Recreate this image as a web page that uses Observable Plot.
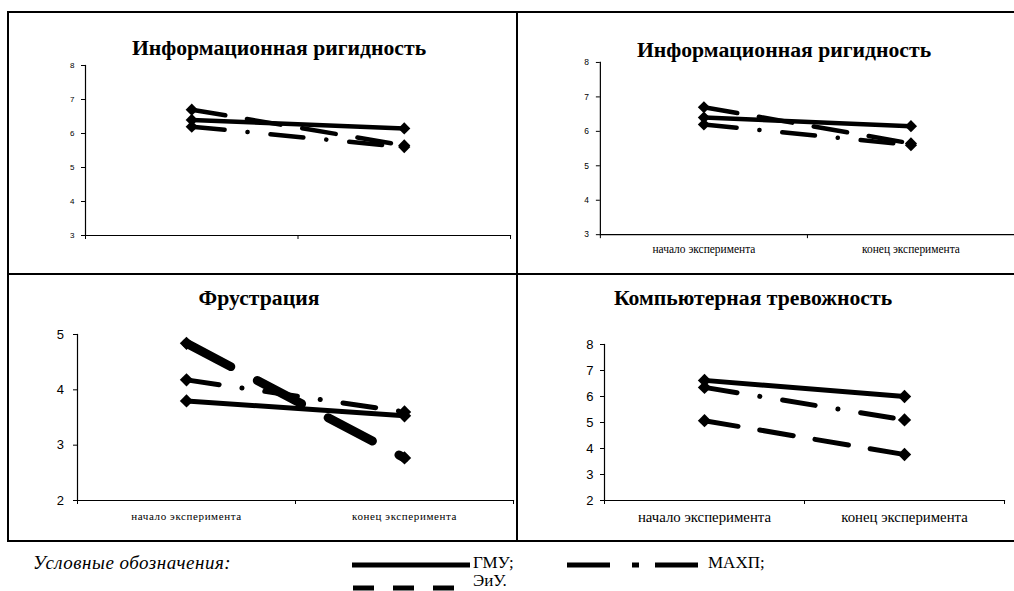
<!DOCTYPE html>
<html>
<head>
<meta charset="utf-8">
<script src="https://cdn.jsdelivr.net/npm/d3@7"></script>
<script src="https://cdn.jsdelivr.net/npm/@observablehq/plot@0.6"></script>
<style>
  html, body { margin: 0; padding: 0; background: #fff; overflow: hidden; }
  #page { position: relative; width: 1014px; height: 591px; overflow: hidden; background: #fff; }
  .hl, .vl { position: absolute; background: #000; }
  .title { position: absolute; transform: translate(-50%, -50%); font-family: "Liberation Serif", "Times New Roman", Times, serif; font-weight: bold; white-space: nowrap; color: #000; }
  .panel { position: absolute; }
  .legtext { position: absolute; font-family: "Liberation Serif", "Times New Roman", Times, serif; font-size: 16px; white-space: nowrap; color: #000; transform: translateY(-50%); }
</style>
</head>
<body>
<div id="page"></div>
<script>
// ---------- data ----------
const categories = ["начало эксперимента", "конец эксперимента"];
const seriesNames = ["ГМУ", "МАХП", "ЭиУ"];

const rigidityGMU  = [6.4, 6.15];
const rigidityMAHP = [6.2, 5.6];
const rigidityEiU  = [6.7, 5.65];

const frustrationGMU  = [3.8, 3.53];
const frustrationMAHP = [4.18, 3.6];
const frustrationEiU  = [4.84, 2.77];

const anxietyGMU  = [6.62, 6.0];
const anxietyMAHP = [6.35, 5.1];
const anxietyEiU  = [5.07, 3.77];

const rigidityTicks    = [3, 4, 5, 6, 7, 8];
const frustrationTicks = [2, 3, 4, 5];
const anxietyTicks     = [2, 3, 4, 5, 6, 7, 8];

const titleRigidity    = "Информационная ригидность";
const titleFrustration = "Фрустрация";
const titleAnxiety     = "Компьютерная тревожность";
const legendCaption    = "Условные обозначения:";

const SERIF = "'Liberation Serif', 'Times New Roman', Times, serif";
const SANS = "'Liberation Sans', Arial, sans-serif";

// ---------- helpers ----------
const page = document.getElementById("page");
function line(cls, x, y, w, h) {
  const d = document.createElement("div");
  d.className = cls;
  Object.assign(d.style, {left: x + "px", top: y + "px", width: w + "px", height: h + "px"});
  page.appendChild(d);
}
function title(text, cx, cy, size) {
  const d = document.createElement("div");
  d.className = "title";
  d.textContent = text;
  Object.assign(d.style, {left: cx + "px", top: cy + "px", fontSize: size + "px"});
  page.appendChild(d);
}
const rows = vals => categories.map((c, i) => ({x: i + 0.5, y: vals[i], c}));

function chart(o) {
  const marks = [
    Plot.frame({anchor: "left", strokeWidth: 1.2}),
    Plot.frame({anchor: "bottom", strokeWidth: 1.2}),
    Plot.axisY({ticks: o.yTicks, tickSize: 4, tickPadding: o.yPad, fontSize: o.yFont,
      fontFamily: SANS, label: null, tickFormat: d => String(d)}),
    Plot.axisX({ticks: d3.range(categories.length + 1), tickSize: 4, tickFormat: () => "", label: null})
  ];
  if (o.xFont) {
    marks.push(Plot.axisX({ticks: categories.map((c, i) => i + 0.5), tickSize: 0, tickPadding: o.xPad,
      tickFormat: d => categories[Math.floor(d)], fontSize: o.xFont,
      fontFamily: SERIF, label: null}));
  }
  for (const s of o.series) {
    marks.push(Plot.line(rows(s.vals), {x: "x", y: "y", stroke: "#000", strokeWidth: s.w,
      strokeDasharray: s.dash, strokeLinecap: "round", strokeLinejoin: "round"}));
  }
  for (const s of o.series) {
    marks.push(Plot.dot(rows(s.vals), {x: "x", y: "y", symbol: "diamond2", r: o.r, fill: "#000", stroke: "none"}));
  }
  const svg = Plot.plot({
    width: o.R - o.L + o.ml + o.mr,
    height: o.B - o.T + o.mt + o.mb,
    marginLeft: o.ml, marginRight: o.mr, marginTop: o.mt, marginBottom: o.mb,
    x: {type: "linear", domain: [0, categories.length]},
    y: {domain: [o.yTicks[0], o.yTicks[o.yTicks.length - 1]]},
    style: {background: "transparent", color: "#000", overflow: "visible", letterSpacing: (o.xSpacing || 0) + "px"},
    marks
  });
  const wrap = document.createElement("div");
  wrap.className = "panel";
  wrap.style.left = (o.L - o.ml) + "px";
  wrap.style.top = (o.T - o.mt) + "px";
  wrap.appendChild(svg);
  page.appendChild(wrap);
}

const dashMAHP = "33,23,0.1,23";
const dashEiU = "34,22";

// ---------- frame ----------
line("hl", 8, 11, 1006, 2);
line("hl", 8, 273, 1006, 2);
line("hl", 8, 540, 1006, 2);
line("vl", 7, 11, 2, 531);
line("vl", 516, 11, 2, 531);

// ---------- panels ----------
title(titleRigidity, 279, 48, 21.7);
chart({L: 85, R: 510, T: 65, B: 235, ml: 30, mr: 4, mt: 8, mb: 10, yTicks: rigidityTicks, yFont: 8, yPad: 7, r: 5.5,
  series: [
    {vals: rigidityGMU, w: 4.5, dash: null},
    {vals: rigidityMAHP, w: 4.5, dash: dashMAHP},
    {vals: rigidityEiU, w: 4.5, dash: dashEiU}
  ]});

title(titleRigidity, 784, 50, 21.7);
chart({L: 600, R: 1016, T: 62, B: 235, ml: 30, mr: 0, mt: 8, mb: 30, yTicks: rigidityTicks, yFont: 8.5, yPad: 7.5, r: 5.5,
  xFont: 11.5, xPad: 10,
  series: [
    {vals: rigidityGMU, w: 4.5, dash: null},
    {vals: rigidityMAHP, w: 4.5, dash: dashMAHP},
    {vals: rigidityEiU, w: 4.5, dash: dashEiU}
  ]});

title(titleFrustration, 259, 298, 21.7);
chart({L: 77, R: 513, T: 334, B: 500, ml: 30, mr: 2, mt: 10, mb: 30, yTicks: frustrationTicks, yFont: 13, yPad: 9, r: 6,
  xFont: 11, xPad: 12, xSpacing: 0.6,
  series: [
    {vals: frustrationGMU, w: 5, dash: null},
    {vals: frustrationMAHP, w: 5, dash: "33,23,0.1,23"},
    {vals: frustrationEiU, w: 9, dash: "50,30"}
  ]});

title(titleAnxiety, 753, 298, 21.7);
chart({L: 604, R: 1004, T: 344, B: 500, ml: 30, mr: 4, mt: 10, mb: 30, yTicks: anxietyTicks, yFont: 13, yPad: 7, r: 6,
  xFont: 14.8, xPad: 11,
  series: [
    {vals: anxietyGMU, w: 5, dash: null},
    {vals: anxietyMAHP, w: 5, dash: dashMAHP},
    {vals: anxietyEiU, w: 5, dash: dashEiU}
  ]});

// ---------- legend ----------
function legText(text, x, y, size, italic, spacing) {
  const d = document.createElement("div");
  d.className = "legtext";
  d.textContent = text;
  d.style.left = x + "px";
  d.style.top = y + "px";
  d.style.fontSize = size + "px";
  if (spacing) d.style.letterSpacing = spacing + "px";
  if (italic) d.style.fontStyle = "italic";
  page.appendChild(d);
}
legText(legendCaption, 33, 563, 19, true, 0.5);
const ns = "http://www.w3.org/2000/svg";
const lsvg = document.createElementNS(ns, "svg");
lsvg.setAttribute("width", 1014);
lsvg.setAttribute("height", 591);
lsvg.style.position = "absolute";
lsvg.style.left = "0px";
lsvg.style.top = "0px";
function legLine(x1, x2, y, dash) {
  const l = document.createElementNS(ns, "line");
  l.setAttribute("x1", x1); l.setAttribute("x2", x2);
  l.setAttribute("y1", y); l.setAttribute("y2", y);
  l.setAttribute("stroke", "#000");
  l.setAttribute("stroke-width", 5);
  if (dash) l.setAttribute("stroke-dasharray", dash);
  lsvg.appendChild(l);
}
legLine(352, 470, 565, null);
legText(seriesNames[0] + ";", 473, 563, 17);
legLine(567, 705, 565, "43,22,7,16");
legText(seriesNames[1] + ";", 708, 563, 17);
legLine(353, 470, 588, "21,19");
legText(seriesNames[2] + ".", 473, 581, 17);
page.appendChild(lsvg);
</script>
</body>
</html>
